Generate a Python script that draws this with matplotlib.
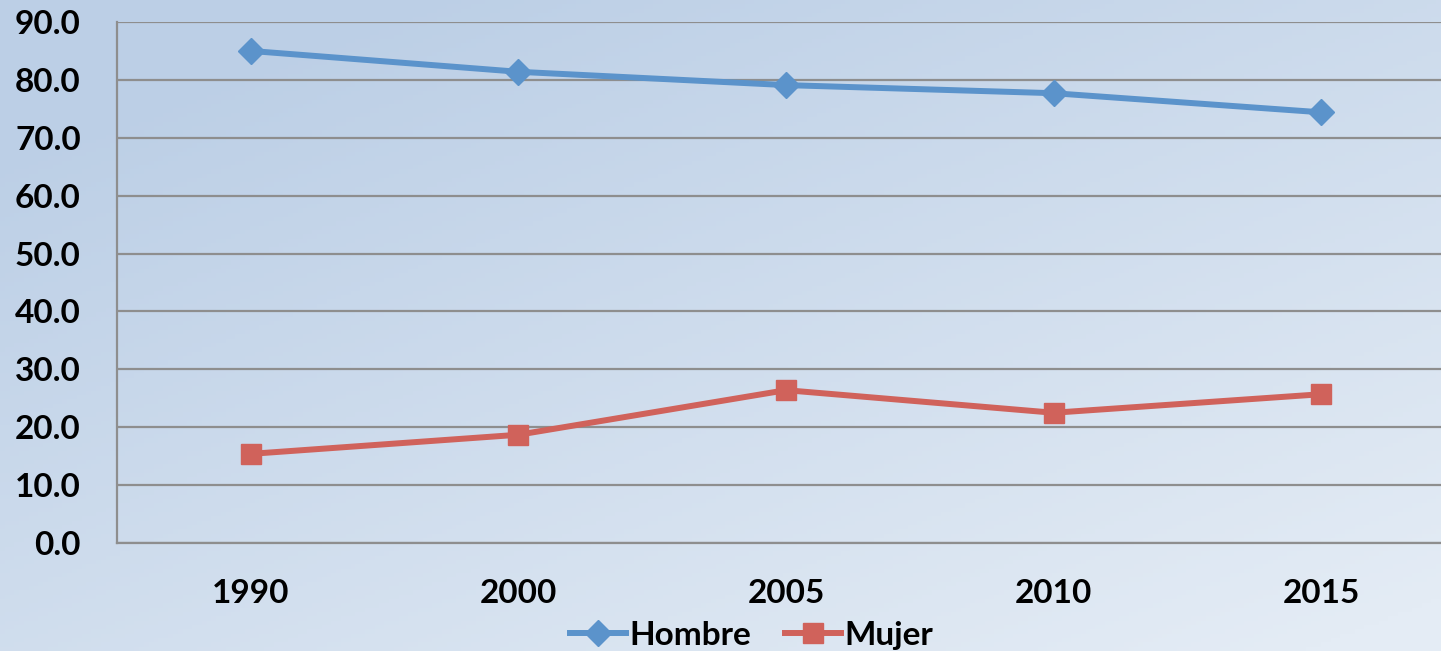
import numpy as np
import matplotlib.pyplot as plt

years = ['1990', '2000', '2005', '2010', '2015']
hombre = [85.0, 81.4, 79.1, 77.7, 74.4]
mujer = [15.4, 18.7, 26.4, 22.5, 25.7]
yticks = [0, 10, 20, 30, 40, 50, 60, 70, 80, 90]

plt.rcParams['font.family'] = ['Lato', 'DejaVu Sans']
plt.rcParams['font.weight'] = 'bold'

fig = plt.figure(figsize=(14.41, 6.51), dpi=100)

# background gradient (darker blue top-left, lighter bottom-right)
bg = fig.add_axes([0, 0, 1, 1], zorder=-10)
gx, gy = np.meshgrid(np.linspace(0, 1, 300), np.linspace(0, 1, 150))
t = np.clip(0.55 * gx + 0.65 * gy - 0.15, 0, 1)
dark = np.array([188, 207, 230]) / 255
light = np.array([228, 236, 245]) / 255
img = dark[None, None, :] * (1 - t[..., None]) + light[None, None, :] * t[..., None]
bg.imshow(img, aspect='auto', extent=[0, 1, 0, 1], origin='upper')
bg.axis('off')

ax = fig.add_axes([0.0812, 0.1659, 0.9285, 0.8003])
ax.set_facecolor('none')
x = np.arange(len(years))
ax.plot(x, hombre, color='#5b93cb', lw=4.3, marker='D', markersize=13, label='Hombre')
ax.plot(x, mujer, color='#d0625b', lw=4.3, marker='s', markersize=14, label='Mujer')

ax.set_xlim(-0.5, 4.5)
ax.set_ylim(0, 90)
ax.set_yticks(yticks)
ax.set_yticklabels([f'{v:.1f}' for v in yticks])
ax.set_xticks(x)
ax.set_xticklabels(years)
ax.tick_params(axis='both', length=0, labelsize=24, colors='black')
ax.tick_params(axis='y', pad=26)
ax.tick_params(axis='x', pad=26)
ax.yaxis.grid(True, color='#8e8e8e', lw=1.6)
ax.set_axisbelow(True)
for s in ['top', 'right']:
    ax.spines[s].set_visible(False)
for s in ['left', 'bottom']:
    ax.spines[s].set_color('#8e8e8e')
    ax.spines[s].set_linewidth(1.6)

fig.legend(loc='center', bbox_to_anchor=(0.5215, 0.024), ncol=2, frameon=False,
           fontsize=24, handlelength=1.7, handletextpad=0.1, columnspacing=1.0)

fig.savefig('out.png', dpi=100)
